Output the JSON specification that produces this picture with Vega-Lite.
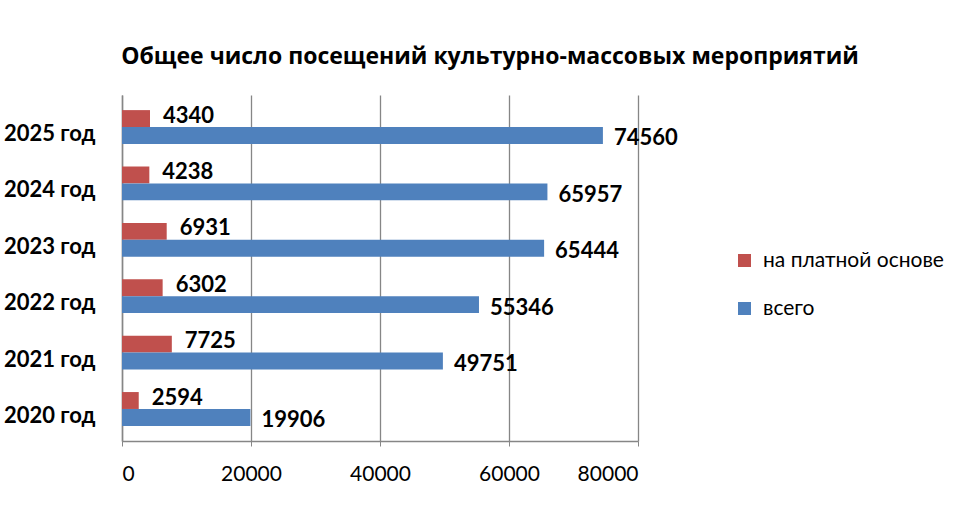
{
  "$schema": "https://vega.github.io/schema/vega-lite/v6.json",
  "autosize": "none",
  "width": 516,
  "height": 346,
  "padding": {"left": 122, "top": 95, "right": 322, "bottom": 69},
  "background": "white",
  "title": {
    "text": "Общее число посещений культурно-массовых мероприятий",
    "font": "Open Sans",
    "fontSize": 23,
    "fontWeight": "bold",
    "color": "#000000",
    "anchor": "middle",
    "frame": "group",
    "dx": 110,
    "offset": 26
  },
  "data": {
    "values": [
      {"year": "2025 год", "series": "на платной основе", "value": 4340},
      {"year": "2025 год", "series": "всего", "value": 74560},
      {"year": "2024 год", "series": "на платной основе", "value": 4238},
      {"year": "2024 год", "series": "всего", "value": 65957},
      {"year": "2023 год", "series": "на платной основе", "value": 6931},
      {"year": "2023 год", "series": "всего", "value": 65444},
      {"year": "2022 год", "series": "на платной основе", "value": 6302},
      {"year": "2022 год", "series": "всего", "value": 55346},
      {"year": "2021 год", "series": "на платной основе", "value": 7725},
      {"year": "2021 год", "series": "всего", "value": 49751},
      {"year": "2020 год", "series": "на платной основе", "value": 2594},
      {"year": "2020 год", "series": "всего", "value": 19906}
    ]
  },
  "encoding": {
    "y": {
      "field": "year",
      "type": "nominal",
      "sort": ["2025 год", "2024 год", "2023 год", "2022 год", "2021 год", "2020 год"],
      "scale": {"paddingInner": 0.4, "paddingOuter": 0.268},
      "axis": {
        "title": null,
        "labelFont": "Lato",
        "labelFontSize": 22,
        "labelFontWeight": "bold",
        "labelColor": "#000000",
        "labelPadding": 27,
        "labelOffset": 7,
        "ticks": false,
        "domainColor": "#868686",
        "domainWidth": 1.5
      }
    },
    "yOffset": {
      "field": "series",
      "type": "nominal",
      "sort": ["на платной основе", "всего"],
      "scale": {"paddingInner": 0, "paddingOuter": 0}
    },
    "x": {
      "field": "value",
      "type": "quantitative",
      "scale": {"domain": [0, 80000], "nice": false},
      "axis": {
        "title": null,
        "values": [0, 20000, 40000, 60000, 80000],
        "format": "d",
        "labelFont": "Lato",
        "labelFontSize": 21,
        "labelColor": "#000000",
        "labelPadding": 17,
        "tickSize": 5,
        "tickColor": "#868686",
        "domainColor": "#868686",
        "domainWidth": 1.5,
        "grid": true,
        "gridColor": "#868686",
        "gridWidth": 1.3
      }
    }
  },
  "layer": [
    {
      "mark": {"type": "bar", "stroke": null},
      "encoding": {
        "color": {
          "field": "series",
          "type": "nominal",
          "sort": ["на платной основе", "всего"],
          "scale": {"domain": ["на платной основе", "всего"], "range": ["#C0504D", "#4F81BD"]},
          "legend": {
            "title": null,
            "orient": "none",
            "legendX": 612,
            "legendY": 155,
            "symbolType": "square",
            "symbolSize": 170,
            "symbolStrokeWidth": 0,
            "labelFont": "Lato",
            "labelFontSize": 21,
            "labelLimit": 400,
            "labelColor": "#000000",
            "rowPadding": 26,
            "labelOffset": 8
          }
        }
      }
    },
    {
      "transform": [{"filter": "datum.series === 'на платной основе'"}],
      "mark": {"type": "text", "align": "left", "baseline": "middle", "dx": 13, "dy": -3, "font": "Lato", "fontSize": 22, "fontWeight": "bold", "color": "#000000"},
      "encoding": {
        "text": {"field": "value", "type": "quantitative", "format": "d"}
      }
    },
    {
      "transform": [{"filter": "datum.series === 'всего'"}],
      "mark": {"type": "text", "align": "left", "baseline": "middle", "dx": 11, "dy": 3, "font": "Lato", "fontSize": 22, "fontWeight": "bold", "color": "#000000"},
      "encoding": {
        "text": {"field": "value", "type": "quantitative", "format": "d"}
      }
    }
  ],
  "config": {"view": {"stroke": null}}
}
